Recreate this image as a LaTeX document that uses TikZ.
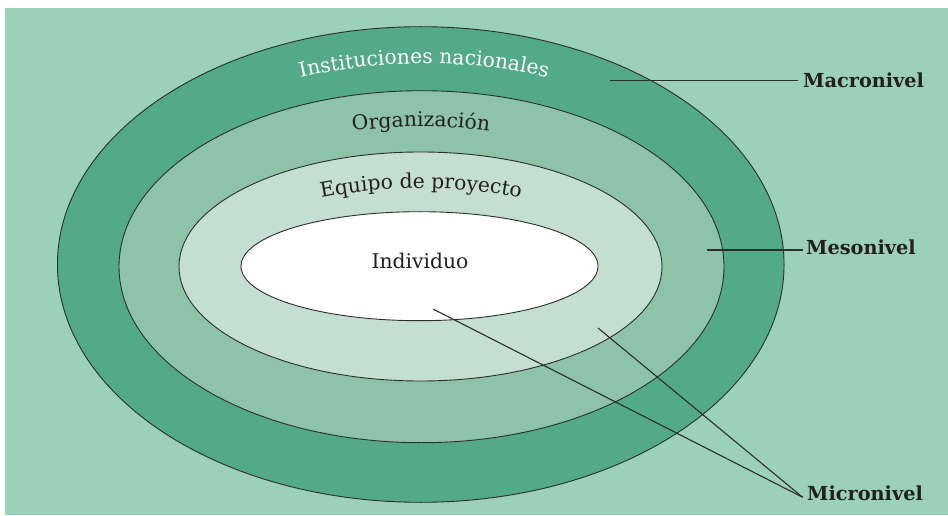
\documentclass[tikz,border=0pt]{standalone}
\usepackage{fontspec}
\setmainfont{DejaVu Serif}
\usetikzlibrary{decorations.text,calc}
\definecolor{bgc}{RGB}{155,208,185}
\definecolor{ringA}{RGB}{83,170,135}
\definecolor{ringB}{RGB}{140,195,169}
\definecolor{ringC}{RGB}{197,222,210}
\definecolor{inkc}{RGB}{35,31,32}
\definecolor{linec}{RGB}{45,45,45}
\tikzset{
  ring/.style={draw=linec, line width=0.9pt},
  conn/.style={draw=linec, line width=1.1pt},
  lab/.style={font=\fontsize{19.3}{22}\selectfont\bfseries, text=inkc, inner sep=0pt},
  plain/.style={font=\fontsize{20.3}{24}\selectfont, text=inkc, inner sep=0pt}
}
\begin{document}
\begin{tikzpicture}[x=1pt,y=1pt]
\useasboundingbox (0,0) rectangle (948,515);
\fill[bgc] (5,0) rectangle (948,507);
% rings
\draw[ring, fill=ringA] (420.75,250.5) ellipse [x radius=363.3pt, y radius=237.8pt];
\draw[ring, fill=ringB] (421.5,248.3) ellipse [x radius=302.5pt, y radius=176pt];
\draw[ring, fill=ringC] (420.5,248.5) ellipse [x radius=241.5pt, y radius=114.5pt];
\draw[ring, fill=white] (419.5,248.8) ellipse [x radius=178.5pt, y radius=54.5pt];
\coordinate (c) at (421,248.5);
\coordinate (c2) at (424,248.5);
% curved labels
\path[decorate, decoration={text along path, text align=center,
  text={|\fontsize{20.3}{24}\selectfont\color{white}|Instituciones nacionales}}]
  ($(c2)+(150:335pt and 203pt)$) arc[start angle=150, end angle=30, x radius=335pt, y radius=203pt];
\path[decorate, decoration={text along path, text align=center,
  text={|\fontsize{20.3}{24}\selectfont\color{inkc}|Organización}}]
  ($(c)+(150:272pt and 140pt)$) arc[start angle=150, end angle=30, x radius=272pt, y radius=140pt];
\path[decorate, decoration={text along path, text align=center,
  text={|\fontsize{20.3}{24}\selectfont\color{inkc}|Equipo de proyecto}}]
  ($(c)+(165:210pt and 78pt)$) arc[start angle=165, end angle=15, x radius=210pt, y radius=78pt];
\node[plain, anchor=base] (indiv) at (420,246.7) {Individuo};
% level labels
\node[lab, anchor=base west] (macro) at (803,427.7) {Macronivel};
\node[lab, anchor=base west] (meso) at (806,261) {Mesonivel};
\node[lab, anchor=base west] (micro) at (807,14.3) {Micronivel};
\coordinate (macroA) at (610,434.3);
\coordinate (macroB) at (798,434.3);
\coordinate (mesoA) at (706.7,265);
\coordinate (mesoB) at (802.7,265);
\coordinate (microA) at (433,206);
\coordinate (microB) at (598,187);
\coordinate (microM) at (802.7,17.7);
\draw[conn] (macroA) -- (macroB);
\draw[conn] (mesoA) -- (mesoB);
\draw[conn] (microA) -- (microM);
\draw[conn] (microB) -- (microM);
\end{tikzpicture}
\end{document}
